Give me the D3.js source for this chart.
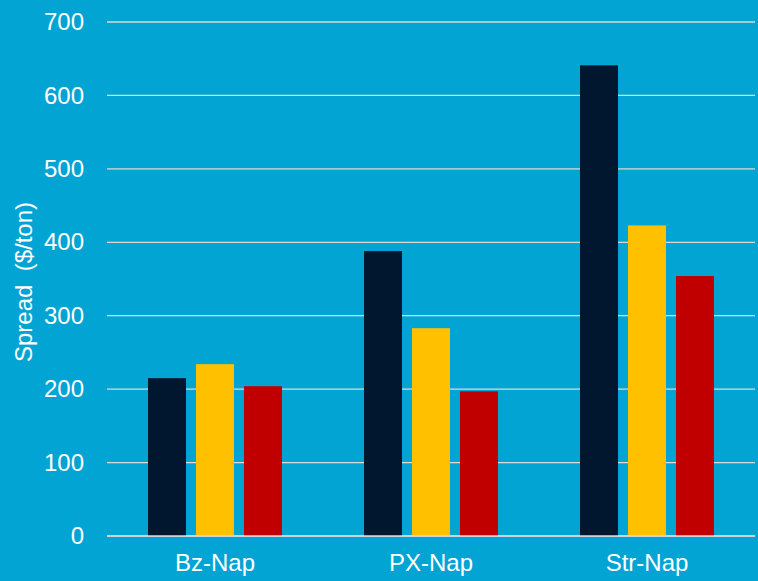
<!DOCTYPE html>
<html>
<head>
<meta charset="utf-8">
<script src="https://cdn.jsdelivr.net/npm/d3@7"></script>
<style>
  html, body { margin: 0; padding: 0; background: #02A4D4; }
  svg { display: block; }
  text { font-family: "Liberation Sans", Arial, sans-serif; fill: #ffffff; }
</style>
</head>
<body>
<svg id="chart" width="758" height="581"></svg>
<script>
// Spread per route, three series
const categories = ["Bz-Nap", "PX-Nap", "Str-Nap"];
const seriesA = [215, 388, 641];
const seriesB = [234, 283, 423];
const seriesC = [204, 197, 354];
const seriesColors = ["#00182F", "#FFC000", "#C00000"];
const yTicks = [0, 100, 200, 300, 400, 500, 600, 700];
const yTitle = "Spread\u00a0\u00a0($/ton)";

const series = [seriesA, seriesB, seriesC];

const plotLeft = 107, plotRight = 755, plotTop = 22, plotBottom = 536;
const fontSize = "24px";

const svg = d3.select("#chart");

const x = d3.scaleBand().domain(categories).range([plotLeft, plotRight]).paddingInner(0).paddingOuter(0);
const y = d3.scaleLinear().domain([0, 700]).range([plotBottom, plotTop]);

// gridlines
svg.append("g")
  .selectAll("line")
  .data(yTicks)
  .join("line")
  .attr("x1", plotLeft).attr("x2", plotRight)
  .attr("y1", d => y(d)).attr("y2", d => y(d))
  .attr("stroke", "#D9D9D9")
  .attr("stroke-width", 1.3);

// y axis labels
const yAxis = d3.axisLeft(y).tickValues(yTicks).tickSize(0).tickPadding(0);
const gy = svg.append("g").attr("transform", `translate(${plotLeft - 23},0)`).call(yAxis);
gy.select(".domain").remove();
gy.selectAll("text")
  .attr("fill", "#ffffff")
  .style("font-size", fontSize)
  .style("font-family", "'Liberation Sans', Arial, sans-serif");

// bars
const barW = 38, gap = 10;
const groupW = series.length * barW + (series.length - 1) * gap;
const inner = d3.scaleBand().domain(d3.range(series.length))
  .range([0, groupW])
  .paddingInner(gap / (barW + gap));

const groups = svg.append("g")
  .selectAll("g")
  .data(categories)
  .join("g")
  .attr("transform", d => `translate(${x(d) + (x.bandwidth() - groupW) / 2},0)`);

groups.selectAll("rect")
  .data((c, i) => series.map((s, k) => ({ k, v: s[i] })))
  .join("rect")
  .attr("x", d => inner(d.k))
  .attr("width", inner.bandwidth())
  .attr("y", d => y(d.v))
  .attr("height", d => y(0) - y(d.v))
  .attr("fill", d => seriesColors[d.k]);

// baseline drawn over the bars
svg.append("line")
  .attr("x1", plotLeft).attr("x2", plotRight)
  .attr("y1", y(0)).attr("y2", y(0))
  .attr("stroke", "#D9D9D9")
  .attr("stroke-width", 1.3);

// x axis labels
const xAxis = d3.axisBottom(x).tickSize(0).tickPadding(0);
const gx = svg.append("g").attr("transform", `translate(0,${plotBottom + 35})`).call(xAxis);
gx.select(".domain").remove();
gx.selectAll("text")
  .attr("dy", 0)
  .attr("fill", "#ffffff")
  .style("font-size", fontSize)
  .style("font-family", "'Liberation Sans', Arial, sans-serif");

// y axis title
svg.append("text")
  .attr("transform", `translate(32,282) rotate(-90)`)
  .attr("text-anchor", "middle")
  .style("font-size", fontSize)
  .text(yTitle);
</script>
</body>
</html>
